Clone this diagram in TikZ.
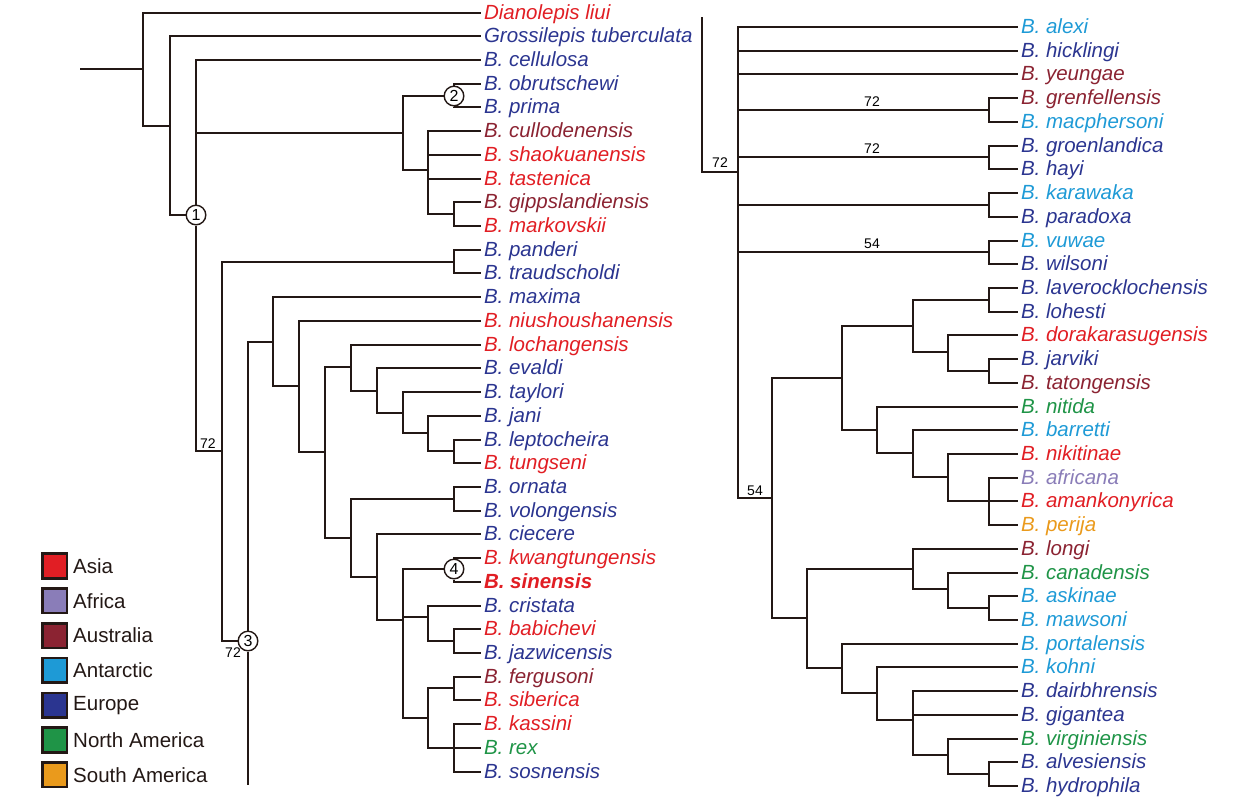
\documentclass[tikz,border=0pt]{standalone}
\usepackage{fontspec}
\setmainfont{Liberation Sans}
\usepackage{tikz}
\usetikzlibrary{positioning}

\definecolor{asia}{RGB}{225,30,36}
\definecolor{africa}{RGB}{138,125,184}
\definecolor{australia}{RGB}{139,35,50}
\definecolor{antarctic}{RGB}{30,154,214}
\definecolor{europe}{RGB}{43,53,144}
\definecolor{namerica}{RGB}{31,148,71}
\definecolor{samerica}{RGB}{234,154,28}
\definecolor{ink}{RGB}{35,24,21}

\begin{document}
\begin{tikzpicture}[x=0.5pt,y=-0.5pt,line width=1pt,
  taxon/.style={anchor=west,inner xsep=1pt,inner ysep=0pt,text height=8pt,text depth=1.3pt,
    font=\fontsize{10.25}{12}\selectfont\itshape},
  clade/.style={circle,draw=ink,fill=white,line width=0.7pt,inner sep=0pt,minimum size=9.8pt,
    font=\fontsize{8}{9}\selectfont},
  support/.style={inner sep=0pt,font=\fontsize{7}{8}\selectfont},
  legbox/.style={draw=ink,line width=1.3pt,minimum size=12.3pt,inner sep=0pt},
  legtext/.style={inner sep=0pt,text=ink,font=\fontsize{10.25}{12}\selectfont}]
\useasboundingbox (0,0) rectangle (1237,810);

% left tree, taxa
\foreach \nm/\yy/\cc/\lab in {
  dia/13/asia/{Dianolepis liui}, gro/36/europe/{Grossilepis tuberculata},
  cel/60/europe/{B. cellulosa}, obr/84/europe/{B. obrutschewi}, pri/107/europe/{B. prima},
  cul/131/australia/{B. cullodenensis}, sha/155/asia/{B. shaokuanensis},
  tas/179/asia/{B. tastenica}, gip/202/australia/{B. gippslandiensis},
  mar/226/asia/{B. markovskii}, pan/250/europe/{B. panderi}, tra/273/europe/{B. traudscholdi},
  max/297/europe/{B. maxima}, niu/321/asia/{B. niushoushanensis},
  loc/345/asia/{B. lochangensis}, eva/368/europe/{B. evaldi}, tay/392/europe/{B. taylori},
  jan/416/europe/{B. jani}, lep/440/europe/{B. leptocheira}, tun/463/asia/{B. tungseni},
  orn/487/europe/{B. ornata}, vol/511/europe/{B. volongensis}, cie/534/europe/{B. ciecere},
  kwa/558/asia/{B. kwangtungensis}, sin/582/asia/{\bfseries B. sinensis},
  cri/606/europe/{B. cristata}, bab/629/asia/{B. babichevi}, jaz/653/europe/{B. jazwicensis},
  fer/677/australia/{B. fergusoni}, sib/700/asia/{B. siberica}, kas/724/asia/{B. kassini},
  rex/748/namerica/{B. rex}, sos/772/europe/{B. sosnensis}}
  \node[taxon,text=\cc] (\nm) at (481,\yy) {\lab};

% right tree, taxa
\foreach \nm/\yy/\cc/\lab in {
  ale/27/antarctic/{B. alexi}, hic/51/europe/{B. hicklingi}, yeu/74/australia/{B. yeungae},
  gre/98/australia/{B. grenfellensis}, mac/122/antarctic/{B. macphersoni},
  grl/146/europe/{B. groenlandica}, hay/169/europe/{B. hayi}, kar/193/antarctic/{B. karawaka},
  par/217/europe/{B. paradoxa}, vuw/241/antarctic/{B. vuwae}, wil/264/europe/{B. wilsoni},
  lav/288/europe/{B. laverocklochensis}, loh/312/europe/{B. lohesti},
  dor/335/asia/{B. dorakarasugensis}, jar/359/europe/{B. jarviki},
  tat/383/australia/{B. tatongensis}, nit/407/namerica/{B. nitida},
  bar/430/antarctic/{B. barretti}, nik/454/asia/{B. nikitinae}, afr/478/africa/{B. africana},
  ama/501/asia/{B. amankonyrica}, per/525/samerica/{B. perija}, lon/549/australia/{B. longi},
  can/573/namerica/{B. canadensis}, ask/596/antarctic/{B. askinae},
  maw/620/antarctic/{B. mawsoni}, por/644/antarctic/{B. portalensis},
  koh/667/antarctic/{B. kohni}, dai/691/europe/{B. dairbhrensis}, gig/715/europe/{B. gigantea},
  vir/739/namerica/{B. virginiensis}, alv/762/europe/{B. alvesiensis},
  hyd/786/europe/{B. hydrophila}}
  \node[taxon,text=\cc] (\nm) at (1018,\yy) {\lab};

% left tree, inner nodes
\coordinate (stem) at (80,69);
\coordinate (a0) at (143,69);
\coordinate (a1) at (170,126);
\node[clade] (n1) at (196,215) {1};
\coordinate (a2) at (403,133);
\node[clade] (n2) at (454,96) {2};
\coordinate (a4) at (428,170);
\coordinate (a5) at (454,214);
\coordinate (a3) at (222,451);
\coordinate (a6) at (454,262);
\node[clade] (n3) at (248,641) {3};
\coordinate (cont) at (248,785);
\coordinate (a7) at (273,342);
\coordinate (a8) at (299,386);
\coordinate (a9) at (325,452);
\coordinate (a10) at (351,367);
\coordinate (a12) at (377,391);
\coordinate (a13) at (403,413);
\coordinate (a14) at (428,433);
\coordinate (a15) at (454,451);
\coordinate (a11) at (351,538);
\coordinate (a16) at (454,499);
\coordinate (a17) at (377,577);
\coordinate (a18) at (403,620);
\node[clade] (n4) at (454,569) {4};
\coordinate (a19) at (428,617);
\coordinate (a21) at (454,641);
\coordinate (a20) at (428,718);
\coordinate (a22) at (454,688);
\coordinate (a23) at (454,748);

% right tree, inner nodes
\coordinate (top) at (702,17);
\coordinate (b0) at (738,172);
\coordinate (b1) at (989,110);
\coordinate (b2) at (989,157);
\coordinate (b3) at (989,205);
\coordinate (b4) at (989,252);
\coordinate (b5) at (772,498);
\coordinate (b6) at (842,378);
\coordinate (b8) at (913,326);
\coordinate (b10) at (989,300);
\coordinate (b11) at (948,352);
\coordinate (b12) at (989,371);
\coordinate (b9) at (877,430);
\coordinate (b13) at (913,453);
\coordinate (b14) at (948,477);
\coordinate (b15) at (989,501);
\coordinate (b7) at (807,618);
\coordinate (b16) at (913,569);
\coordinate (b18) at (948,589);
\coordinate (b19) at (989,608);
\coordinate (b17) at (842,668);
\coordinate (b20) at (877,693);
\coordinate (b21) at (913,720);
\coordinate (b22) at (948,755);
\coordinate (b23) at (989,774);

% branches
\begin{scope}[draw=ink]
\draw (stem) -- (a0) (n3) -- (cont);
\foreach \p/\c in {a0/dia,a0/a1,a1/gro,a1/n1,n1/cel,n1/a2,n1/a3,a2/n2,a2/a4,n2/obr,n2/pri,
    a4/cul,a4/sha,a4/tas,a4/a5,a5/gip,a5/mar,a3/a6,a3/n3,a6/pan,a6/tra,n3/a7,a7/max,a7/a8,
    a8/niu,a8/a9,a9/a10,a9/a11,a10/loc,a10/a12,a12/eva,a12/a13,a13/tay,a13/a14,a14/jan,a14/a15,
    a15/lep,a15/tun,a11/a16,a11/a17,a16/orn,a16/vol,a17/cie,a17/a18,a18/n4,a18/a19,a18/a20,
    n4/kwa,n4/sin,a19/cri,a19/a21,a21/bab,a21/jaz,a20/a22,a20/a23,a22/fer,a22/sib,
    a23/kas,a23/rex,a23/sos}
  \draw (\p) |- (\c);
\foreach \p/\c in {top/b0,b0/ale,b0/hic,b0/yeu,b0/b1,b0/b2,b0/b3,b0/b4,b0/b5,b1/gre,b1/mac,
    b2/grl,b2/hay,b3/kar,b3/par,b4/vuw,b4/wil,b5/b6,b5/b7,b6/b8,b6/b9,b8/b10,b8/b11,
    b10/lav,b10/loh,b11/dor,b11/b12,b12/jar,b12/tat,b9/nit,b9/b13,b13/bar,b13/b14,
    b14/nik,b14/b15,b15/afr,b15/ama,b15/per,b7/b16,b7/b17,b16/lon,b16/b18,b18/can,b18/b19,
    b19/ask,b19/maw,b17/por,b17/b20,b20/koh,b20/b21,b21/dai,b21/gig,b21/b22,b22/vir,b22/b23,
    b23/alv,b23/hyd}
  \draw (\p) |- (\c);
\end{scope}

% support values
\node[support] (s1) at (208,444) {72};
\node[support] (s2) at (233,653) {72};
\node[support] (s3) at (720,163) {72};
\node[support] (s4) at (872,102) {72};
\node[support] (s5) at (872,149) {72};
\node[support] (s6) at (872,244) {54};
\node[support] (s7) at (755,491) {54};

% legend
\foreach \nm/\yy/\cc/\lab in {asia/566/asia/Asia, afr/600.8/africa/Africa,
    aus/635.6/australia/Australia, ant/670.4/antarctic/Antarctic, eur/705.2/europe/Europe,
    nam/740/namerica/North America, sam/774.8/samerica/South America}
  {\node[legbox,fill=\cc] (k\nm) at (54.6,\yy) {};
   \node[legtext,right=2pt of k\nm] (t\nm) {\lab};}
\end{tikzpicture}
\end{document}
